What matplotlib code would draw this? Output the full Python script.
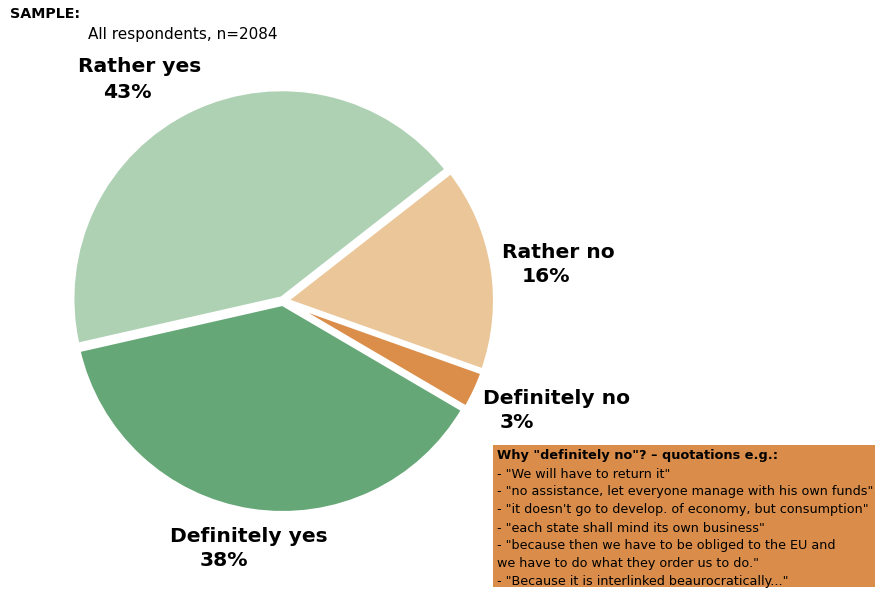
import matplotlib.pyplot as plt

# Survey answers, ordered clockwise starting at the upper right
labels = ["Rather no", "Definitely no", "Definitely yes", "Rather yes"]
shares = [16, 3, 38, 43]
colors = ["#EBC699", "#DB8E4A", "#66A777", "#AED1B4"]

quotes_title = 'Why "definitely no"? \u2013 quotations e.g.:'
quotes = [
    '- "We will have to return it"',
    '- "no assistance, let everyone manage with his own funds"',
    '- "it doesn\'t go to develop. of economy, but consumption"',
    '- "each state shall mind its own business"',
    '- "because then we have to be obliged to the EU and',
    'we have to do what they order us to do."',
    '- "Because it is interlinked beaurocratically..."',
]

W, H = 879, 589
fig = plt.figure(figsize=(W / 100, H / 100), dpi=100)
ax = fig.add_axes([0, 0, 1, 1])
ax.set_xlim(0, W)
ax.set_ylim(H, 0)
ax.set_aspect("equal")
ax.axis("off")

# pie drawn in its own axes so it stays circular
pax = fig.add_axes([(283 - 212) / W, (589 - 301 - 212) / H, 424 / W, 424 / H])
pax.pie(shares, colors=colors, startangle=38, counterclock=False,
        explode=[0.012, 0.012, 0.012, 0.012],
        wedgeprops=dict(edgecolor="white", linewidth=3.5))
pax.set_aspect("equal")
pax.set_xlim(-1.01, 1.01)
pax.set_ylim(-1.01, 1.01)
pax.axis("off")

ax.text(10, 14, "SAMPLE:", fontsize=10.3, fontweight="bold", va="center")
ax.text(88, 34, "All respondents, n=2084", fontsize=11, va="center")

lab_kw = dict(fontsize=14.6, fontweight="bold", va="center", ha="left")
ax.text(78, 67, "Rather yes", **lab_kw)
ax.text(103, 92, f"{shares[3]}%", **lab_kw)
ax.text(502, 252, "Rather no", **lab_kw)
ax.text(522, 277, f"{shares[0]}%", **lab_kw)
ax.text(483, 398, "Definitely no", **lab_kw)
ax.text(500, 422, f"{shares[1]}%", **lab_kw)
ax.text(170, 536, "Definitely yes", **lab_kw)
ax.text(200, 561, f"{shares[2]}%", **lab_kw)

# quotation box
ax.add_patch(plt.Rectangle((493, 445), 382, 142, facecolor="#DA8D4A",
                           edgecolor="none", zorder=1))
ax.text(497, 456, quotes_title, fontsize=9.3, fontweight="bold", va="center", zorder=2)
for i, q in enumerate(quotes):
    ax.text(497, 474 + 18 * i, q, fontsize=9.15, va="center", zorder=2)

fig.savefig("out.png", dpi=100)
